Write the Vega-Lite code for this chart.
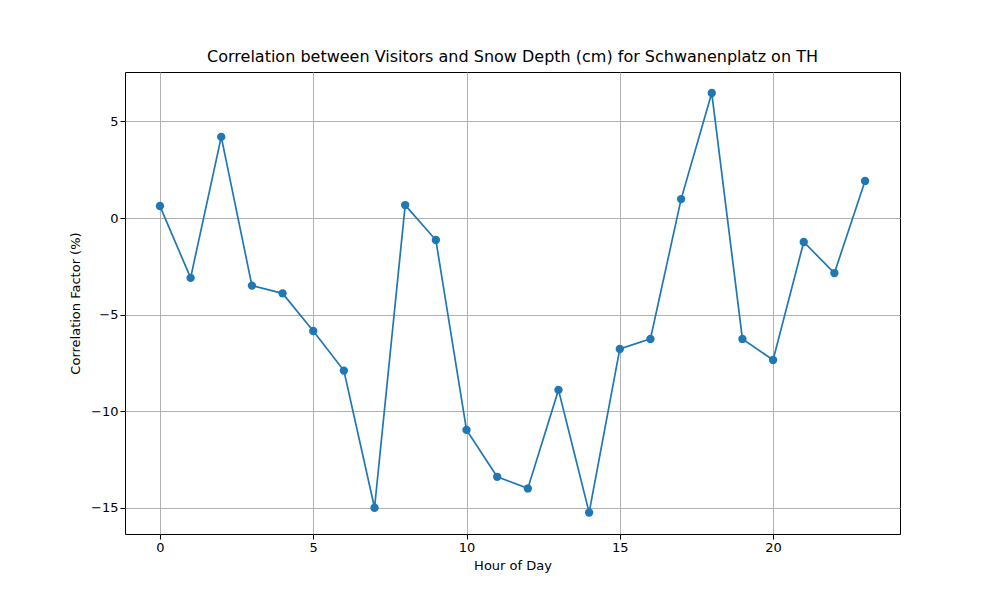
{
"$schema":"https://vega.github.io/schema/vega-lite/v6.json",
"autosize":{"type":"none"},
"padding":{"left":125,"top":72,"right":100,"bottom":66},
"width":775,"height":462,
"background":"white",
"title":{"text":"Correlation between Visitors and Snow Depth (cm) for Schwanenplatz on TH","fontSize":16,"fontWeight":"normal","font":"DejaVu Sans","offset":7,"color":"black"},
"data":{"values":[
{"h":0,"v":0.62},{"h":1,"v":-3.1},{"h":2,"v":4.2},{"h":3,"v":-3.5},{"h":4,"v":-3.9},{"h":5,"v":-5.85},{"h":6,"v":-7.9},{"h":7,"v":-15.0},{"h":8,"v":0.67},{"h":9,"v":-1.14},{"h":10,"v":-10.97},{"h":11,"v":-13.4},{"h":12,"v":-14.0},{"h":13,"v":-8.9},{"h":14,"v":-15.25},{"h":15,"v":-6.78},{"h":16,"v":-6.26},{"h":17,"v":0.98},{"h":18,"v":6.47},{"h":19,"v":-6.26},{"h":20,"v":-7.35},{"h":21,"v":-1.24},{"h":22,"v":-2.85},{"h":23,"v":1.92}
]},
"config":{"view":{"stroke":"black","strokeWidth":1},
"axis":{"labelFont":"DejaVu Sans","titleFont":"DejaVu Sans","labelFontSize":13,"titleFontSize":13,"titleFontWeight":"normal","labelColor":"black","titleColor":"black","gridColor":"#b0b0b0","gridWidth":1,"tickColor":"black","domain":false,"tickSize":5}},
"mark":{"type":"line","color":"#1f77b4","strokeWidth":1.7,"point":{"filled":true,"size":70,"color":"#1f77b4","opacity":1}},
"encoding":{
"x":{"field":"h","type":"quantitative","title":"Hour of Day","scale":{"domain":[-1.14,24.14],"nice":false,"zero":false},"axis":{"values":[0,5,10,15,20],"titlePadding":5}},
"y":{"field":"v","type":"quantitative","title":"Correlation Factor (%)","scale":{"domain":[-16.36,7.56],"nice":false,"zero":false},"axis":{"values":[-15,-10,-5,0,5],"titlePadding":8}}
}
}
